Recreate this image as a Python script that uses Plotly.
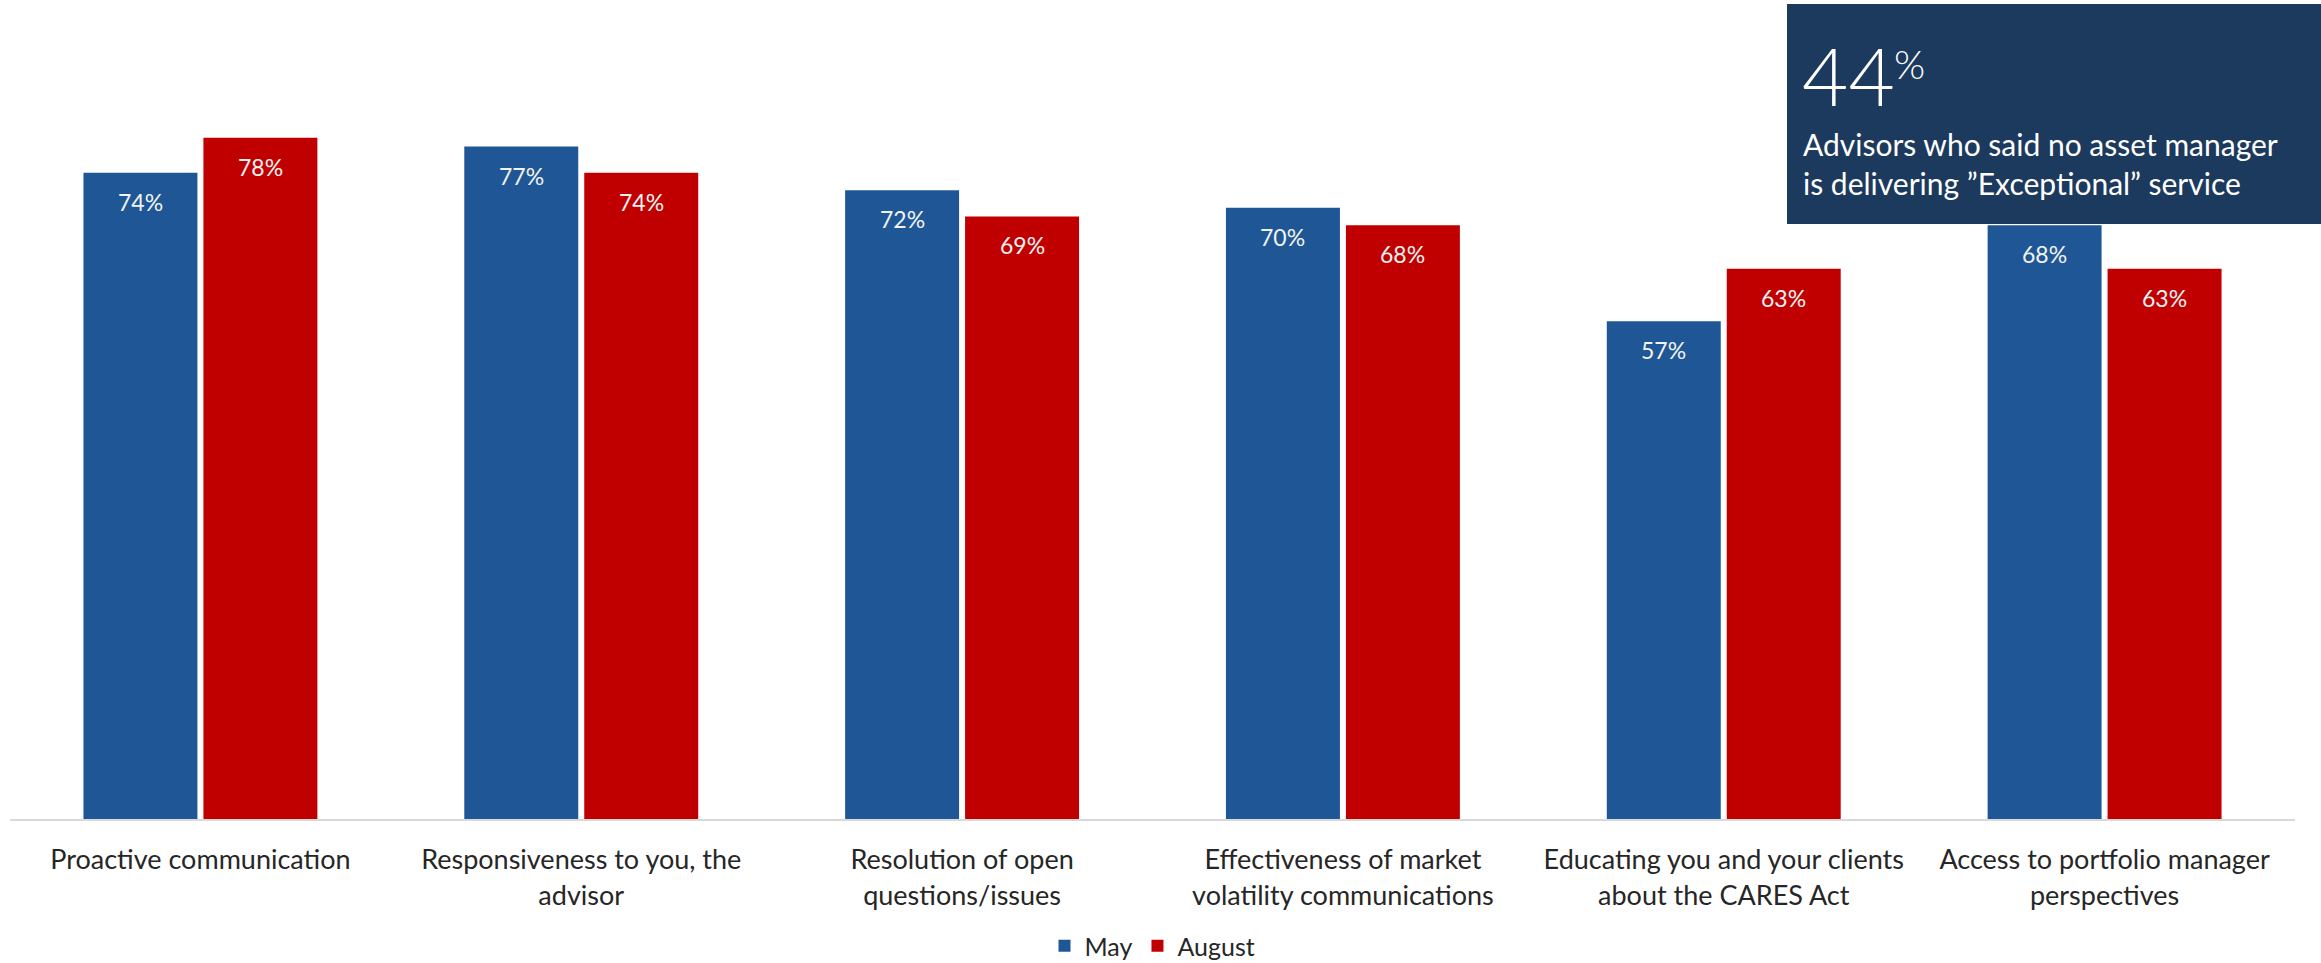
import plotly.graph_objects as go

categories = [
    "Proactive communication",
    "Responsiveness to you, the<br>advisor",
    "Resolution of open<br>questions/issues",
    "Effectiveness of market<br>volatility communications",
    "Educating you and your clients<br>about the CARES Act",
    "Access to portfolio manager<br>perspectives",
]
may_values = [74, 77, 72, 70, 57, 68]
august_values = [78, 74, 69, 68, 63, 63]
series_names = ["May", "August"]
series_colors = ["#1F5796", "#C00000"]

callout_value = "44"
callout_text = "Advisors who said no asset manager<br>is delivering \u201dExceptional\u201d service"

FONT = "Lato"
W, H = 2321, 963
ML, MR, MT, MB = 10, 26, 33, 144
PLOT_W = W - ML - MR
PLOT_H = H - MT - MB


def px_x(p):
    return (p - ML) / PLOT_W


def px_y(p):
    return (H - MB - p) / PLOT_H


fig = go.Figure()
for name, vals, col in zip(series_names, [may_values, august_values], series_colors):
    fig.add_trace(go.Bar(
        name=name, x=categories, y=vals, marker_color=col,
        marker_line_width=0,
    ))

# value labels inside the top of each bar
slot = PLOT_W / len(categories)
bar_offset = slot * (1 - 0.37) / 4
annotations = []
for k, vals in enumerate([may_values, august_values]):
    shift = -bar_offset if k == 0 else bar_offset
    for cat, v in zip(categories, vals):
        annotations.append(dict(
            x=cat, y=v, xref="x", yref="y", text=f"{v}%", showarrow=False,
            xshift=shift, yshift=-29, yanchor="middle", xanchor="center",
            font=dict(family=FONT, size=23, color="#F2F2F2"),
        ))

# callout panel
fig.add_shape(type="rect", xref="paper", yref="paper",
              x0=px_x(1787), x1=px_x(2330), y0=px_y(224), y1=px_y(4),
              fillcolor="#1C3A5E", line_width=0, layer="above")
annotations.append(dict(
    xref="paper", yref="paper", x=px_x(1800), y=px_y(125), xanchor="left", yanchor="bottom",
    text=callout_value, showarrow=False,
    font=dict(family=FONT, size=80, color="#FFFFFF", weight=300),
))
annotations.append(dict(
    xref="paper", yref="paper", x=px_x(1892), y=px_y(90), xanchor="left", yanchor="bottom",
    text="%", showarrow=False,
    font=dict(family=FONT, size=40, color="#FFFFFF", weight=300),
))
annotations.append(dict(
    xref="paper", yref="paper", x=px_x(1801), y=px_y(164), xanchor="left", yanchor="middle",
    text=callout_text, showarrow=False, align="left",
    font=dict(family=FONT, size=30, color="#FFFFFF"),
))

fig.update_layout(
    width=W, height=H,
    margin=dict(l=ML, r=MR, t=MT, b=MB, autoexpand=False),
    paper_bgcolor="white", plot_bgcolor="white",
    barmode="group", bargap=0.37, bargroupgap=0.05,
    font=dict(family=FONT, color="#262626"),
    xaxis=dict(
        showline=True, linecolor="#D9D9D9", linewidth=2, ticks="",
        tickfont=dict(family=FONT, size=27, color="#262626"),
        showgrid=False, ticklabelstandoff=16, automargin=False,
    ),
    yaxis=dict(range=[0, 90], visible=False, showgrid=False, automargin=False),
    legend=dict(
        orientation="h", x=0.5, xanchor="center", y=px_y(946), yanchor="middle",
        font=dict(family=FONT, size=25, color="#262626"),
        itemwidth=30, traceorder="normal",
    ),
    annotations=annotations,
    showlegend=True,
)

fig.write_html("out.html")
